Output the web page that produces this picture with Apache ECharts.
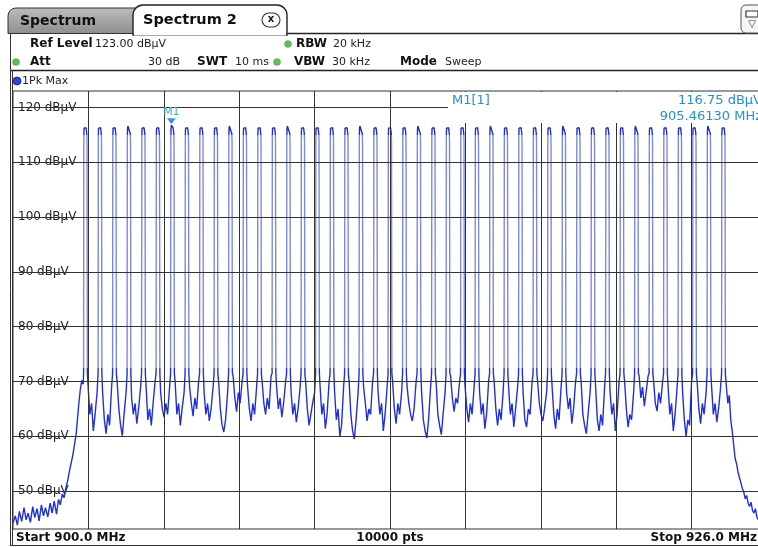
<!DOCTYPE html>
<html><head><meta charset="utf-8">
<script src="https://cdn.jsdelivr.net/npm/echarts@6/dist/echarts.min.js"></script>
<style>html,body{margin:0;padding:0;background:#fff}#c{width:758px;height:547px}</style>
</head><body><div id="c"></div>
<script>
const FONT = 'DejaVu Sans';
// Channel centres (MHz) and peak levels (dBuV)
const channelCenters = [902.5, 903.0, 903.5, 904.0, 904.5, 905.0, 905.5, 906.0, 906.5, 907.0, 907.5, 908.0, 908.5, 909.0, 909.5, 910.0, 910.5, 911.0, 911.5, 912.0, 912.5, 913.0, 913.5, 914.0, 914.5, 915.0, 915.5, 916.0, 916.5, 917.0, 917.5, 918.0, 918.5, 919.0, 919.5, 920.0, 920.5, 921.0, 921.5, 922.0, 922.5, 923.0, 923.5, 924.0, 924.5];
const peakLevels = [116.5,116.4,116.5,116.6,116.5,116.4,116.75,116.5,116.4,116.5,116.6,116.5,116.4,116.5,116.6,116.5,116.4,116.5,116.5,116.6,116.4,116.5,116.5,116.6,116.4,116.5,116.5,116.4,116.6,116.5,116.5,116.4,116.5,116.6,116.5,116.4,116.5,116.5,116.6,116.4,116.5,116.5,116.4,116.6,116.5];
// Channel top shape: offsets from centre (MHz) and levels (null = peak level)
const capOffsets = [-0.066, -0.058, -0.05, -0.039, 0.02, 0.045, 0.053, 0.064];
const capLevels = [71.5, 114.6, 116.2, null, 116.3, 115.2, 113.5, 71.5];
// Noise floor between neighbouring channels
const gapOffsets = [0.09, 0.15, 0.21, 0.27, 0.33, 0.40];
const gapLevels = [
 [69,64,66,61,64,68],[68,63,60.5,64,62,69],[70,65,62,60.1,64,68],[67,64,66,62.3,65,69],
 [69,63,65,62,66,70],[68,65,63.5,66,64,69],[70,64,66,62,65,68],[69,66,63.7,67,65,70],
 [68,64,66,62.8,65,69],[70,65,62,60.8,63,68],[71,67,64.5,68,66,70],[69,65,62.8,66,64,69],
 [70,66,64,67,65,71],[69,65,67,63.5,66,70],[68,64,66,62.6,65,69],[70,65,62,64,66,68],
 [69,64,66,61.4,64,70],[68,63,65,60,62,69],[70,64,61,59.5,63,68],[69,66,62.8,65,64,70],
 [68,64,66,61,64,69],[70,65,62.3,66,64,68],[69,66,64,62.8,65,70],[68,63,61,59.7,63,69],
 [70,64,62,60.3,64,68],[71,67,64.5,67,66,70],[69,65,62.6,66,64,69],[68,64,66,61.4,64,70],
 [70,65,62,65,63,68],[69,64,66,61.7,65,69],[68,63,61.7,65,64,70],[70,66,64,62.8,65,68],
 [69,64,61.4,65,63,69],[68,65,67,62.3,65,70],[70,64,62,60.5,64,68],[69,63,61,64,62,69],
 [68,64,66,61,64,70],[70,65,61.7,64,63,68],[71,67,69,65.5,68,71],[70,66,64.6,68,66,70],
 [69,64,66,61,64,69],[68,63,60,63,62,70],[70,65,62.3,66,64,68],[69,64,66,62.6,65,69]
];
const leftSkirt = [[900.0,44.2],[900.08,45.5],[900.15,43.8],[900.22,46.3],[900.3,44.5],[900.38,47],[900.45,44.8],[900.52,46],[900.6,44.3],[900.68,47.2],[900.75,45.2],[900.83,46.8],[900.9,44.6],[900.98,47.5],[901.05,45.5],[901.12,47],[901.2,45.3],[901.28,47.8],[901.35,46],[901.42,48.2],[901.5,45.8],[901.57,48.5],[901.63,47.5],[901.7,49.5],[901.76,48.8],[901.82,50.5],[901.88,51.8],[901.94,53.5],[902.0,55],[902.06,56.5],[902.12,58.5],[902.18,60.5],[902.22,63],[902.27,66],[902.32,68.5],[902.37,70.2],[902.42,69.5]];
const rightSkirt = [[924.6,69],[924.65,66],[924.7,67.5],[924.75,63],[924.8,61],[924.85,58.5],[924.9,56],[924.95,55],[925.0,53.5],[925.05,52.5],[925.1,51.5],[925.15,50.5],[925.2,49.8],[925.25,48.6],[925.3,49.2],[925.35,47.8],[925.4,47.2],[925.45,48],[925.5,46.5],[925.55,46],[925.6,46.8],[925.65,45.3],[925.7,44.8],[925.8,45.5],[925.9,44.5],[926.0,44.8]];
const marker = [905.4613, 116.75];
const xGridLines = [902.6, 905.2, 907.8, 910.4, 913.0, 915.6, 918.2, 920.8, 923.4];
const yTicks = [50, 60, 70, 80, 90, 100, 110, 120];

const r4 = v => Math.round(v * 10000) / 10000;
const trace = leftSkirt.slice();
channelCenters.forEach((c, k) => {
  capOffsets.forEach((o, j) => trace.push([r4(c + o), capLevels[j] === null ? peakLevels[k] : capLevels[j]]));
  if (k < gapLevels.length) gapOffsets.forEach((o, j) => trace.push([r4(c + o), gapLevels[k][j]]));
});
rightSkirt.forEach(p => trace.push(p));

const chart = echarts.init(document.getElementById('c'), null, {renderer: 'canvas'});
const txt = (x, y, s, o, z) => ({type: 'text', z: z || 50, style: Object.assign({x, y, text: s, font: '11px "' + FONT + '"', fill: '#222', verticalAlign: 'middle'}, o || {})});
const bold = (x, y, s, size, o) => txt(x, y, s, Object.assign({font: 'bold ' + (size || 12) + 'px "' + FONT + '"', fill: '#111'}, o || {}));
const dot = (cx, cy, col) => ({type: 'circle', z: 50, shape: {cx, cy, r: 3.6}, style: {fill: col, stroke: 'rgba(0,0,0,0.25)', lineWidth: 0.6}});
const hline = (x1, x2, y, w, col, z) => ({type: 'line', z: z || 50, shape: {x1, y1: y, x2, y2: y}, style: {stroke: col || '#333', lineWidth: w || 1}});
const vline = (x, y1, y2, w, col) => ({type: 'line', z: 50, shape: {x1: x, y1, x2: x, y2}, style: {stroke: col || '#333', lineWidth: w || 1}});
const green = '#5fbf5f';
const mfont = '13px "' + FONT + '"';

const option = {
  animation: false,
  backgroundColor: '#fff',
  grid: {left: 13, top: 91, width: 754, height: 438, show: true, borderColor: '#333', borderWidth: 1,
    outerBoundsMode: 'none', containLabel: false},
  xAxis: {type: 'value', min: 900, max: 926, axisLine: {show: false}, axisTick: {show: false}, axisLabel: {show: false}, splitLine: {show: false}},
  yAxis: {type: 'value', min: 43.1, max: 123, z: 1.5,
    axisLine: {show: false}, axisTick: {show: false}, splitLine: {show: false},
    axisLabel: {inside: true, customValues: yTicks, margin: 1, formatter: v => v + ' dBμV',
      color: '#222', fontSize: 12, fontFamily: FONT, backgroundColor: '#fff', padding: [2, 2, 2, 4]}},
  visualMap: {show: false, type: 'piecewise', seriesIndex: 1, dimension: 1,
    pieces: [{lt: 72.5, color: '#2030d8'}, {gte: 72.5, lt: 115, color: '#7d89df'}, {gte: 115, color: '#1f30c8'}]},
  series: [
    {type: 'line', z: 1, data: [], silent: true,
      markLine: {silent: true, symbol: 'none', animation: false, label: {show: false},
        lineStyle: {color: '#333', width: 1, type: 'solid'},
        data: xGridLines.map(v => ({xAxis: v})).concat(yTicks.map(v => ({yAxis: v})))}},
    {type: 'line', z: 2, data: trace, showSymbol: false, symbol: 'none', lineStyle: {width: 1.4},
      markPoint: {symbol: 'triangle', symbolRotate: 180, symbolSize: [9, 6], symbolOffset: [0, -4],
        itemStyle: {color: '#2f9ad6'},
        label: {show: true, position: 'top', distance: 1, formatter: 'M1', color: '#4aa8d8', fontSize: 11, fontFamily: FONT},
        data: [{coord: marker}]}}
  ],
  graphic: [
    // tabs
    {type: 'rect', z: 49, shape: {x: 8, y: 8, width: 128, height: 25.5, r: [8, 0, 0, 0]},
      style: {fill: {type: 'linear', x: 0, y: 0, x2: 0, y2: 1, colorStops: [{offset: 0, color: '#bdbdbd'}, {offset: 1, color: '#8e8e8e'}]}, stroke: '#333', lineWidth: 1}},
    {type: 'rect', z: 50, shape: {x: 133, y: 5, width: 154, height: 30, r: [10, 10, 0, 0]},
      style: {fill: '#fff', stroke: '#222', lineWidth: 1.4}},
    hline(134, 286, 34.5, 2.2, '#fff', 51),
    bold(20, 21, 'Spectrum', 14),
    bold(143, 20, 'Spectrum 2', 14.5, {fill: '#111'}),
    {type: 'rect', z: 52, shape: {x: 262, y: 13, width: 18, height: 14, r: 7}, style: {fill: '#fff', stroke: '#333', lineWidth: 1.1}},
    txt(271, 19.5, 'x', {font: 'bold 10px "' + FONT + '"', fill: '#111', align: 'center'}, 53),
    hline(287, 758, 33.5, 1.4, '#222'),
    {type: 'rect', z: 50, shape: {x: 741, y: 5, width: 26, height: 28, r: 5}, style: {fill: '#f6f6f6', stroke: '#555', lineWidth: 1}},
    {type: 'rect', z: 51, shape: {x: 746, y: 11, width: 12, height: 6}, style: {fill: '#fff', stroke: '#333', lineWidth: 1.2}},
    txt(752, 24, '▽', {font: '10px "' + FONT + '"', align: 'center', fill: '#333'}, 51),
    // info rows
    bold(30, 44, 'Ref Level'), txt(95, 44, '123.00 dBμV'),
    dot(288, 44, green), bold(296, 44, 'RBW'), txt(333, 44, '20 kHz'),
    dot(16, 62, green), bold(30, 62, 'Att'), txt(180, 62, '30 dB', {align: 'right'}),
    bold(197, 62, 'SWT'), txt(235, 62, '10 ms'),
    dot(277, 62, green), bold(294, 62, 'VBW'), txt(332, 62, '30 kHz'),
    bold(400, 62, 'Mode'), txt(445, 62, 'Sweep'),
    hline(10, 758, 70.5, 1.5, '#222'),
    {type: 'circle', z: 50, shape: {cx: 17, cy: 81, r: 4}, style: {fill: '#2a45e0', stroke: '#10206a', lineWidth: 0.8}},
    txt(22, 81, '1Pk Max'),
    // frame
    vline(10.5, 33, 546, 1, '#333'),
    vline(12.5, 70, 546, 1, '#333'),
    hline(10, 758, 545.5, 1.2, '#333'),
    // bottom bar
    bold(16, 538, 'Start 900.0 MHz'),
    bold(390, 538, '10000 pts', 12, {align: 'center'}),
    bold(757, 538, 'Stop 926.0 MHz', 12, {align: 'right'}),
    // marker info box
    {type: 'rect', z: 60, shape: {x: 448, y: 92, width: 312, height: 31}, style: {fill: '#fff'}},
    txt(452, 101, 'M1[1]', {font: mfont, fill: '#2b8fc9'}, 61),
    txt(762, 101, '116.75 dBμV', {font: mfont, fill: '#2b8fc9', align: 'right'}, 61),
    txt(762, 117, '905.46130 MHz', {font: mfont, fill: '#2b8fc9', align: 'right'}, 61)
  ]
};
chart.setOption(option);
</script></body></html>
